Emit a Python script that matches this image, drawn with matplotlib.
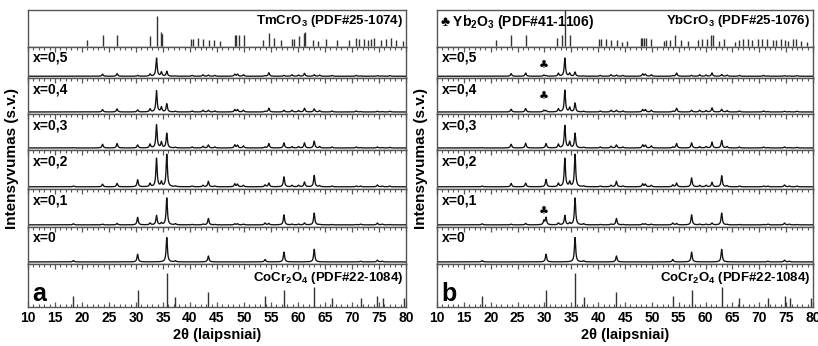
import numpy as np
import matplotlib
matplotlib.use("Agg")
import matplotlib.pyplot as plt
from matplotlib.ticker import MultipleLocator

plt.rcParams['font.family'] = ['Liberation Sans', 'DejaVu Sans']
plt.rcParams['font.weight'] = 'bold'
plt.rcParams['mathtext.fontset'] = 'custom'
plt.rcParams['mathtext.bf'] = 'Liberation Sans:bold'
plt.rcParams['mathtext.rm'] = 'Liberation Sans:bold'

# ---------------- data ----------------
sample_labels = ['x=0,5', 'x=0,4', 'x=0,3', 'x=0,2', 'x=0,1', 'x=0']

# reference sticks: TmCrO3 (PDF#25-1074)
tm_pos = [21.0, 23.8, 26.5, 32.6, 33.8, 34.6, 34.9, 40.2, 40.5, 41.4, 42.5, 43.5, 44.5, 45.6,
          48.3, 48.6, 49.0, 50.0, 53.5, 54.6, 55.5, 56.8, 58.8, 59.3, 60.1, 61.1, 61.3, 62.7,
          63.7, 65.1, 67.2, 69.5, 70.7, 71.3, 72.3, 72.9, 73.5, 74.1, 75.4, 76.3, 77.2, 78.2, 79.4]
tm_int = [0.18, 0.32, 0.32, 0.29, 0.84, 0.38, 0.34, 0.21, 0.21, 0.23, 0.20, 0.16, 0.16, 0.14,
          0.32, 0.32, 0.30, 0.32, 0.18, 0.36, 0.23, 0.18, 0.20, 0.20, 0.27, 0.36, 0.38, 0.18,
          0.14, 0.20, 0.16, 0.16, 0.23, 0.20, 0.20, 0.18, 0.20, 0.23, 0.18, 0.20, 0.23, 0.18, 0.14]

# reference sticks: YbCrO3 (PDF#25-1076)
yb_pos = [21.0, 23.7, 26.5, 32.4, 33.2, 33.8, 34.7, 40.2, 40.5, 41.4, 42.4, 43.5, 44.4, 45.3,
          47.9, 48.2, 48.6, 49.0, 49.8, 52.3, 52.7, 53.4, 54.3, 55.5, 56.8, 58.6, 59.3, 60.2,
          61.0, 61.3, 62.5, 63.5, 65.4, 66.3, 67.0, 67.9, 68.7, 69.7, 70.5, 71.5, 72.6, 73.2,
          74.0, 74.7, 75.4, 76.3, 76.9, 77.8, 78.8]
yb_int = [0.17, 0.30, 0.30, 0.23, 0.30, 1.00, 0.31, 0.20, 0.20, 0.19, 0.17, 0.17, 0.13, 0.15,
          0.24, 0.24, 0.24, 0.24, 0.19, 0.15, 0.17, 0.17, 0.31, 0.17, 0.15, 0.17, 0.19, 0.21,
          0.31, 0.31, 0.15, 0.19, 0.13, 0.17, 0.19, 0.19, 0.17, 0.21, 0.19, 0.19, 0.17, 0.17,
          0.19, 0.17, 0.15, 0.19, 0.19, 0.15, 0.13]

# reference sticks: CoCr2O4 (PDF#22-1084)
co_pos = [18.4, 30.3, 35.7, 37.3, 43.4, 53.9, 57.4, 63.0, 66.3, 71.6, 74.7, 75.7, 79.7]
co_int = [0.26, 0.40, 0.80, 0.24, 0.34, 0.26, 0.40, 0.47, 0.21, 0.22, 0.26, 0.22, 0.22]

# sample peak positions (2theta) and heights per sample
peak_pos = [18.4, 23.8, 26.5, 29.9, 30.3, 32.6, 33.8, 34.7, 35.7, 37.3, 40.4, 42.4, 43.4, 44.6,
            48.3, 48.8, 49.9, 53.9, 54.6, 57.4, 58.9, 60.1, 61.2, 63.0, 64.0, 66.3, 70.8, 71.6,
            74.7, 75.6, 77.0]

tm_x05 = [0, .07, .09, 0, .03, .07, .62, .14, .17, .01, .03, .05, .04, .03, .07, .07, .05, .02,
          .12, .03, .05, .04, .10, .05, .04, .03, .03, .01, .02, .01, .02]
tm_x04 = [0, .07, .09, 0, .06, .09, .62, .14, .24, .02, .03, .05, .05, .03, .07, .07, .05, .02,
          .11, .05, .05, .04, .11, .09, .04, .03, .03, .01, .02, .01, .02]
tm_x03 = [.01, .11, .13, 0, .09, .11, .68, .17, .43, .02, .03, .05, .09, .03, .09, .08, .06, .03,
          .13, .15, .04, .04, .15, .20, .04, .03, .03, .01, .03, .01, .02]
tm_x02 = [.02, .07, .09, 0, .19, .09, .77, .13, .88, .02, .02, .04, .15, .02, .08, .07, .04, .05,
          .10, .27, .04, .04, .13, .31, .03, .02, .02, .02, .05, .02, .02]
tm_x01 = [.03, .02, .04, 0, .21, .05, .26, .05, .75, .03, .01, .02, .18, .01, .03, .03, .02, .05,
          .04, .28, .02, .02, .05, .33, .01, .01, .01, .02, .05, .02, .01]
x00 = [.04, 0, 0, 0, .22, 0, 0, 0, .70, .03, 0, 0, .17, 0, 0, 0, 0, .07, 0, .28, 0, 0, 0, .36,
       0, 0, 0, .02, .05, .02, 0]

yb_x05 = [0, .09, .11, .04, .02, .10, .62, .10, .14, .01, .03, .05, .04, .03, .08, .07, .05, .02,
          .11, .03, .05, .04, .11, .06, .04, .03, .03, .01, .02, .01, .02]
yb_x04 = [0, .08, .10, .05, .04, .09, .64, .13, .26, .02, .03, .05, .05, .03, .07, .07, .05, .02,
          .11, .05, .05, .04, .12, .08, .04, .03, .03, .01, .02, .01, .02]
yb_x03 = [.01, .11, .14, 0, .13, .11, .66, .18, .43, .02, .03, .05, .09, .03, .09, .08, .06, .03,
          .13, .15, .04, .04, .17, .22, .04, .03, .03, .01, .03, .01, .02]
yb_x02 = [.02, .09, .10, 0, .20, .09, .77, .13, .88, .02, .02, .04, .15, .02, .08, .07, .04, .05,
          .10, .24, .04, .04, .12, .30, .03, .02, .02, .02, .05, .02, .02]
yb_x01 = [.03, .02, .04, .12, .20, .05, .26, .05, .75, .03, .01, .02, .18, .01, .03, .03, .02, .05,
          .04, .28, .02, .02, .05, .33, .01, .01, .01, .02, .05, .02, .01]

# Yb2O3 markers (club) per sample row index: (row, 2theta, height)
club_rows = [0, 1, 4]
club_x = [29.8, 29.8, 29.9]
club_y = [0.35, 0.45, 0.35]

xticks = [10, 15, 20, 25, 30, 35, 40, 45, 50, 55, 60, 65, 70, 75, 80]

# ---------------- drawing ----------------
W, H = 818, 346
fig = plt.figure(figsize=(W / 100, H / 100), dpi=100)

row_px = [37, 31, 36, 36, 39, 38, 37, 43]
top_px, bot_px = 10, 307

tth = np.arange(10, 80.001, 0.02)
HW = 0.14


def profile(pos, hts):
    y = np.zeros_like(tth)
    for p, h in zip(pos, hts):
        if h > 0:
            y += h / (1 + ((tth - p) / HW) ** 2)
    return y


spine_col = '#555555'
line_col = '#111111'


def make_panel(x0, x1, top_ref, samples, letter, top_text_right, yb=False):
    axes = []
    y = top_px
    for i, hpx in enumerate(row_px):
        ax = fig.add_axes([x0 / W, 1 - (y + hpx) / H, (x1 - x0) / W, hpx / H])
        y += hpx
        ax.set_xlim(10, 80)
        ax.set_yticks([])
        for s in ax.spines.values():
            s.set_color(spine_col)
            s.set_linewidth(1.0)
        ax.xaxis.set_major_locator(MultipleLocator(5))
        ax.xaxis.set_minor_locator(MultipleLocator(1))
        ax.tick_params(axis='x', which='both', direction='in', color=spine_col,
                       top=(i > 0), bottom=(i == 7), labelbottom=(i == 7))
        ax.tick_params(axis='x', which='major', length=3.5, width=0.9)
        ax.tick_params(axis='x', which='minor', length=2.0, width=0.8)
        axes.append(ax)

    # top reference sticks
    ax = axes[0]
    ax.set_ylim(-0.02, 1.0)
    ax.text(0.993, 0.93, top_text_right, transform=ax.transAxes, ha='right', va='top',
            fontsize=9.5, fontweight='bold')
    if yb:
        ax.text(0.008, 0.93, '\u2663 Yb$_\\mathbf{2}$O$_\\mathbf{3}$ (PDF#41-1106)',
                transform=ax.transAxes, ha='left', va='top', fontsize=10,
                fontweight='bold', zorder=1,
                bbox=dict(facecolor='white', edgecolor='none', pad=0))
    ax.vlines(top_ref[0], 0, top_ref[1], color='#333333', lw=1.0, zorder=3)

    # samples
    for k, (lab, hts) in enumerate(zip(sample_labels, samples)):
        ax = axes[k + 1]
        ax.set_ylim(-0.06, 1.0)
        ax.plot(tth, profile(peak_pos, hts), color=line_col, lw=0.95)
        ax.text(0.012, 0.88, lab, transform=ax.transAxes, ha='left', va='top',
                fontsize=10, fontweight='bold')
        if yb and k in club_rows:
            j = club_rows.index(k)
            ax.text(club_x[j], club_y[j], '\u2663', ha='center', va='center',
                    fontsize=8, family=['DejaVu Sans'])

    # bottom CoCr2O4 sticks
    ax = axes[7]
    ax.set_ylim(0, 1.0)
    ax.vlines(co_pos, 0, co_int, color='#333333', lw=1.0)
    ax.text(0.993, 0.86, 'CoCr$_\\mathbf{2}$O$_\\mathbf{4}$ (PDF#22-1084)',
            transform=ax.transAxes, ha='right', va='top', fontsize=9.5, fontweight='bold')
    ax.text(0.012, 0.30, letter, transform=ax.transAxes, ha='left', va='center',
            fontsize=18, fontweight='bold')
    ax.set_xticks(xticks)
    ax.set_xticklabels([str(t) for t in xticks], fontsize=10, fontweight='bold')
    ax.tick_params(axis='x', which='major', pad=3)
    ax.set_xlabel('2\u03b8 (laipsniai)', fontsize=10.5, fontweight='bold', labelpad=2)
    return axes


make_panel(28, 406, (tm_pos, tm_int), [tm_x05, tm_x04, tm_x03, tm_x02, tm_x01, x00], 'a',
           'TmCrO$_\\mathbf{3}$ (PDF#25-1074)')
make_panel(437, 813, (yb_pos, yb_int), [yb_x05, yb_x04, yb_x03, yb_x02, yb_x01, x00], 'b',
           'YbCrO$_\\mathbf{3}$ (PDF#25-1076)', yb=True)

ymid = 1 - ((top_px + bot_px) / 2) / H
fig.text(12 / W, ymid, 'Intensyvumas (s.v.)', rotation=90, ha='center', va='center',
         fontsize=11, fontweight='bold')
fig.text(421 / W, ymid, 'Intensyvumas (s.v.)', rotation=90, ha='center', va='center',
         fontsize=11, fontweight='bold')

fig.savefig('out.png', dpi=100)
